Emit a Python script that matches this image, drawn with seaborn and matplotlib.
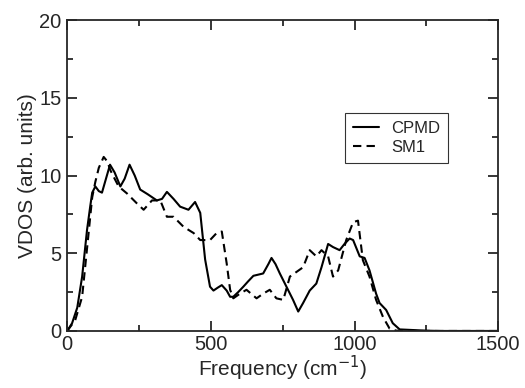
import numpy as np
import pandas as pd
import seaborn as sns
import matplotlib.pyplot as plt
from matplotlib.ticker import MultipleLocator

# 读图得到的数据点 (频率 cm^-1, VDOS)
cpmd_freq = [0, 17, 35, 52, 69, 80, 87, 98, 110, 121, 135, 149, 165, 185, 200, 217, 235, 254,
             280, 312, 330, 347, 370, 393, 422, 445, 463, 480, 497, 509, 525, 538, 555, 567,
             578, 595, 613, 630, 648, 682, 700, 711, 725, 740, 763, 786, 804, 821, 844, 867,
             885, 908, 925, 948, 965, 983, 995, 1018, 1035, 1052, 1075, 1087, 1110, 1133,
             1157, 1203, 1249, 1300, 1500]
cpmd_vdos = [0.0, 0.5, 1.5, 3.5, 6.5, 8.0, 8.9, 9.3, 9.0, 8.9, 9.8, 10.7, 10.2, 9.3, 9.8, 10.7,
             10.0, 9.1, 8.8, 8.4, 8.5, 8.95, 8.5, 8.0, 7.8, 8.3, 7.6, 4.6, 2.85, 2.6, 2.8, 2.95,
             2.6, 2.2, 2.2, 2.5, 2.85, 3.2, 3.55, 3.7, 4.3, 4.7, 4.3, 3.7, 2.85, 2.0, 1.25, 1.8,
             2.6, 3.05, 4.1, 5.6, 5.4, 5.2, 5.6, 5.95, 5.85, 4.8, 4.7, 3.9, 2.4, 1.8, 1.35, 0.5,
             0.1, 0.06, 0.02, 0.0, 0.0]

sm1_freq = [0, 28, 52, 69, 87, 98, 110, 127, 140, 150, 165, 179, 208, 243, 266, 295, 324,
            347, 370, 405, 440, 463, 497, 520, 538, 555, 567, 578, 601, 624, 659, 682, 705,
            728, 752, 775, 798, 821, 844, 867, 885, 908, 925, 943, 971, 995, 1012, 1029,
            1052, 1075, 1099, 1122, 1145, 1200, 1500]
sm1_vdos = [0.0, 0.7, 2.2, 5.3, 8.6, 9.6, 10.5, 11.2, 10.9, 10.35, 9.8, 9.3, 8.85, 8.2,
            7.8, 8.4, 8.4, 7.35, 7.35, 6.7, 6.3, 5.85, 5.85, 6.3, 6.4, 4.35, 2.65, 2.1, 2.4,
            2.65, 2.1, 2.4, 2.65, 2.1, 2.0, 3.5, 3.8, 4.1, 5.2, 4.8, 5.2, 4.8, 3.5, 3.9, 5.85,
            7.0, 7.1, 4.55, 3.5, 2.0, 0.9, 0.15, 0.02, 0.0, 0.0]

df = pd.concat([
    pd.DataFrame({'Frequency': cpmd_freq, 'VDOS': cpmd_vdos, 'Method': 'CPMD'}),
    pd.DataFrame({'Frequency': sm1_freq, 'VDOS': sm1_vdos, 'Method': 'SM1'}),
], ignore_index=True)

sns.set_style('ticks')
plt.rcParams['font.family'] = ['Liberation Sans', 'DejaVu Sans']

fig, ax = plt.subplots(figsize=(5.25, 3.88), dpi=100)
fig.subplots_adjust(left=0.128, right=0.949, top=0.948, bottom=0.147)

sns.lineplot(data=df, x='Frequency', y='VDOS', style='Method', color='black',
             dashes={'CPMD': '', 'SM1': (4, 2.5)}, linewidth=1.5, ax=ax, sort=False)

ax.set_xlim(0, 1500)
ax.set_ylim(0, 20)
ax.xaxis.set_major_locator(MultipleLocator(500))
ax.xaxis.set_minor_locator(MultipleLocator(250))
ax.yaxis.set_major_locator(MultipleLocator(5))
ax.yaxis.set_minor_locator(MultipleLocator(2.5))
ax.tick_params(which='both', direction='in', top=True, right=True, labelsize=14.5, width=1.3)
ax.tick_params(which='major', length=7)
ax.tick_params(axis='x', which='major', pad=3)
ax.tick_params(axis='y', which='major', pad=4)
ax.tick_params(which='minor', length=4)
for s in ax.spines.values():
    s.set_linewidth(1.3)

ax.set_xlabel('Frequency (cm$^{-1}$)', fontsize=15, labelpad=0)
ax.set_ylabel('VDOS (arb. units)', fontsize=15, labelpad=2)

leg = ax.legend(loc='upper left', bbox_to_anchor=(0.645, 0.70), frameon=True, fancybox=False,
                fontsize=12, handlelength=1.6, handletextpad=0.7, borderpad=0.45,
                labelspacing=0.25, borderaxespad=0)
leg.get_frame().set_edgecolor('black')
leg.get_frame().set_linewidth(0.8)
leg.set_title(None)

plt.savefig('out.png', dpi=100)
